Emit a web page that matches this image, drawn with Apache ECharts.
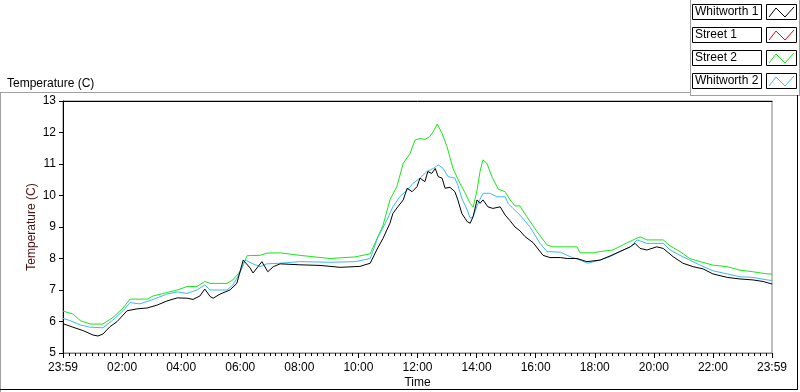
<!DOCTYPE html>
<html>
<head>
<meta charset="utf-8">
<title></title>
<style>
    * { margin: 0; padding: 0; }
    #main { width: 800px; height: 392px; background: #fff; }
</style>
</head>
<body>
<div id="main"></div>
<script src="https://cdn.jsdelivr.net/npm/echarts@6/dist/echarts.min.js"></script>
<script>
    // legend order, colours
    var seriesNames = ['Whitworth 1', 'Street 1', 'Street 2', 'Whitworth 2'];
    var seriesColors = ['#000000', '#ff0000', '#19e619', '#3fb8f0'];

    // x = minutes since 23:59 of the previous day
    var xTickLabels = ['23:59', '02:00', '04:00', '06:00', '08:00', '10:00', '12:00',
        '14:00', '16:00', '18:00', '20:00', '22:00', '23:59'];

    var w1Time = [0, 20, 41, 61, 71, 81, 95, 110, 130, 150, 171, 191, 211, 232, 252, 264, 278, 288, 299, 305,
        319, 339, 353, 366, 370, 380, 386, 396, 404, 416, 427, 441, 481, 522, 563, 603, 624, 638, 650, 664,
        670, 680, 691, 699, 709, 719, 725, 735, 741, 749, 756, 762, 770, 776, 786, 796, 802, 810, 821, 827,
        833, 841, 847, 853, 863, 873, 888, 898, 908, 918, 928, 938, 955, 975, 989, 1010, 1024, 1044, 1064, 1091,
        1111, 1131, 1152, 1162, 1172, 1186, 1206, 1219, 1239, 1259, 1280, 1300, 1320, 1349, 1375, 1401, 1422, 1440];
    var w1Temp = [5.93, 5.82, 5.71, 5.57, 5.54, 5.6, 5.83, 6.0, 6.34, 6.4, 6.43, 6.52, 6.65, 6.75, 6.74, 6.7, 6.81, 7.03, 6.79, 6.74,
        6.87, 7.0, 7.21, 7.95, 8.0, 7.7, 7.54, 7.74, 7.9, 7.58, 7.74, 7.83, 7.8, 7.78, 7.72, 7.75, 7.85, 8.3, 8.64, 9.12,
        9.43, 9.64, 9.86, 10.23, 10.12, 10.28, 10.55, 10.44, 10.76, 10.7, 10.86, 10.6, 10.55, 10.23, 10.26, 10.12, 9.86, 9.43, 9.17, 9.12,
        9.33, 9.86, 9.75, 9.86, 9.64, 9.59, 9.64, 9.38, 9.2, 9.0, 8.88, 8.7, 8.5, 8.1, 8.03, 8.03, 8.0, 8.0, 7.9, 7.95,
        8.08, 8.22, 8.37, 8.48, 8.32, 8.27, 8.37, 8.32, 8.06, 7.85, 7.74, 7.67, 7.51, 7.4, 7.35, 7.32, 7.27, 7.19];

    var s1Time = [];
    var s1Temp = [];

    var s2Time = [0, 20, 35, 55, 81, 100, 122, 136, 171, 183, 211, 232, 252, 272, 288, 299, 333, 345, 359, 374,
        400, 414, 441, 481, 542, 593, 624, 638, 650, 664, 678, 691, 705, 715, 725, 735, 745, 752, 760, 770,
        780, 792, 806, 817, 827, 833, 841, 847, 853, 861, 871, 884, 898, 908, 918, 928, 942, 963, 983, 995,
        1044, 1050, 1077, 1091, 1117, 1137, 1158, 1172, 1186, 1219, 1233, 1253, 1273, 1294, 1320, 1349, 1375, 1401, 1430, 1440];
    var s2Temp = [6.33, 6.24, 6.03, 5.92, 5.92, 6.11, 6.43, 6.71, 6.71, 6.81, 6.92, 7.0, 7.11, 7.11, 7.27, 7.21, 7.21, 7.32, 7.58, 8.09,
        8.1, 8.17, 8.18, 8.1, 8.0, 8.05, 8.15, 8.64, 9.05, 9.86, 10.28, 11.02, 11.34, 11.76, 11.81, 11.78, 11.87, 12.03, 12.27, 11.97,
        11.55, 10.86, 10.39, 10.07, 9.75, 9.63, 10.17, 10.76, 11.13, 11.02, 10.6, 10.2, 10.12, 9.86, 9.67, 9.67, 9.33, 8.85, 8.43, 8.37,
        8.37, 8.18, 8.18, 8.22, 8.27, 8.43, 8.59, 8.69, 8.59, 8.59, 8.4, 8.22, 8.0, 7.9, 7.79, 7.74, 7.63, 7.58, 7.51, 7.51];

    var w2Time = [0, 14, 35, 55, 81, 100, 122, 136, 156, 183, 211, 232, 252, 272, 288, 299, 333, 345, 359, 370,
        386, 400, 414, 441, 481, 542, 593, 624, 640, 658, 670, 684, 699, 711, 725, 739, 752, 762, 772, 782,
        796, 802, 810, 821, 827, 833, 843, 853, 867, 881, 898, 904, 914, 928, 948, 969, 983, 1010, 1030, 1050,
        1066, 1091, 1111, 1131, 1152, 1166, 1186, 1219, 1233, 1253, 1273, 1294, 1320, 1349, 1375, 1401, 1430, 1440];
    var w2Temp = [6.1, 6.03, 5.89, 5.82, 5.8, 6.03, 6.34, 6.6, 6.56, 6.7, 6.87, 6.94, 6.89, 7.0, 7.16, 7.0, 7.0, 7.16, 7.53, 7.95,
        7.83, 7.74, 7.83, 7.85, 7.9, 7.88, 7.9, 8.0, 8.69, 9.22, 9.64, 9.96, 10.17, 10.39, 10.55, 10.76, 10.86, 10.97, 10.86, 10.6,
        10.55, 10.33, 9.91, 9.54, 9.28, 9.33, 9.75, 10.07, 10.07, 9.96, 9.96, 9.75, 9.59, 9.38, 9.01, 8.48, 8.22, 8.2, 8.06, 7.95,
        7.85, 7.95, 8.06, 8.22, 8.37, 8.59, 8.48, 8.48, 8.27, 8.1, 7.95, 7.79, 7.61, 7.51, 7.42, 7.4, 7.32, 7.3];

    function pairs(t, v) {
        var out = [];
        for (var i = 0; i < t.length; i++) out.push([t[i], v[i]]);
        return out;
    }

    var font = 'Liberation Sans';
    var myChart = echarts.init(document.getElementById('main'));

    // frame lines around the chart and the legend
    var graphics = [
        { type: 'line', shape: { x1: 0, y1: 92.5, x2: 690, y2: 92.5 }, style: { stroke: '#a0a0a0', lineWidth: 1 } },
        { type: 'line', shape: { x1: 0.5, y1: 92, x2: 0.5, y2: 392 }, style: { stroke: '#a0a0a0', lineWidth: 1 } },
        { type: 'line', shape: { x1: 690.5, y1: 0, x2: 690.5, y2: 95 }, style: { stroke: '#a0a0a0', lineWidth: 1 } },
        { type: 'line', shape: { x1: 690, y1: 95.5, x2: 800, y2: 95.5 }, style: { stroke: '#a0a0a0', lineWidth: 1 } },
        { type: 'line', shape: { x1: 799.5, y1: 0, x2: 799.5, y2: 95 }, style: { stroke: '#a0a0a0', lineWidth: 1 } },
        { type: 'line', shape: { x1: 797.5, y1: 95, x2: 797.5, y2: 390 }, style: { stroke: '#000', lineWidth: 1 } },
        { type: 'line', shape: { x1: 0, y1: 389.5, x2: 798, y2: 389.5 }, style: { stroke: '#000', lineWidth: 1 } }
    ];

    // legend: label box + line icon box
    seriesNames.forEach(function (name, i) {
        var top = 4 + 23 * i;
        graphics.push({ type: 'rect', shape: { x: 692.5, y: top + 0.5, width: 69, height: 15 },
            style: { fill: '#fff', stroke: '#000', lineWidth: 1 } });
        graphics.push({ type: 'text', x: 695, y: top + 8, style: { text: name, font: '12px "' + font + '"',
            fill: '#000', textVerticalAlign: 'middle' } });
        graphics.push({ type: 'rect', shape: { x: 766.5, y: top + 0.5, width: 30, height: 15 },
            style: { fill: '#fff', stroke: '#000', lineWidth: 1 } });
        graphics.push({ type: 'polyline', shape: { points: [[769, top + 13], [776, top + 4], [785, top + 13], [794, top + 3]] },
            style: { stroke: seriesColors[i], lineWidth: 1, fill: null } });
    });

    var option = {
        animation: false,
        backgroundColor: '#fff',
        textStyle: { fontFamily: font },
        title: {
            text: 'Temperature (C)',
            left: 2, top: 73,
            textStyle: { fontSize: 12, fontWeight: 'normal', color: '#000', fontFamily: font }
        },
        grid: {
            left: 63, top: 101, width: 709, height: 252,
            outerBoundsMode: 'none',
            show: true, borderColor: '#808080', borderWidth: 1, backgroundColor: '#fff'
        },
        xAxis: [{
            type: 'value',
            min: 0, max: 1440, interval: 120,
            name: 'Time', nameLocation: 'middle', nameGap: 24, nameMoveOverlap: false,
            nameTextStyle: { fontSize: 12, color: '#000', fontFamily: font },
            axisLine: { lineStyle: { color: '#808080', width: 1 } },
            axisTick: { length: 5, lineStyle: { color: '#000' } },
            minorTick: { show: true, splitNumber: 10, length: 3, lineStyle: { color: '#000' } },
            splitLine: { show: false },
            axisLabel: {
                margin: 9, fontSize: 12, color: '#000', fontFamily: font,
                showMinLabel: true, showMaxLabel: true,
                formatter: function (v) { return xTickLabels[Math.round(v / 120)]; }
            }
        }, {
            type: 'value', position: 'top',
            min: 0, max: 1440,
            axisLine: { lineStyle: { color: '#000', width: 1 } },
            axisTick: { show: false }, axisLabel: { show: false }, splitLine: { show: false }
        }],
        yAxis: {
            type: 'value',
            min: 5, max: 13, interval: 1,
            name: 'Temperature (C)', nameLocation: 'middle', nameGap: 25, nameRotate: 90, nameMoveOverlap: false,
            nameTextStyle: { fontSize: 12, color: '#4a1010', fontFamily: font },
            axisLine: { show: true, lineStyle: { color: '#000', width: 1 } },
            axisTick: { show: true, length: 4, lineStyle: { color: '#000' } },
            splitLine: { show: false },
            axisLabel: { margin: 7, fontSize: 12, color: '#000', fontFamily: font }
        },
        graphic: graphics,
        series: [
            { name: seriesNames[2], type: 'line', showSymbol: false, data: pairs(s2Time, s2Temp),
                lineStyle: { color: seriesColors[2], width: 1 }, itemStyle: { color: seriesColors[2] } },
            { name: seriesNames[3], type: 'line', showSymbol: false, data: pairs(w2Time, w2Temp),
                lineStyle: { color: seriesColors[3], width: 1 }, itemStyle: { color: seriesColors[3] } },
            { name: seriesNames[1], type: 'line', showSymbol: false, data: pairs(s1Time, s1Temp),
                lineStyle: { color: seriesColors[1], width: 1 }, itemStyle: { color: seriesColors[1] } },
            { name: seriesNames[0], type: 'line', showSymbol: false, data: pairs(w1Time, w1Temp),
                lineStyle: { color: seriesColors[0], width: 1 }, itemStyle: { color: seriesColors[0] } }
        ]
    };
    myChart.setOption(option);
</script>
</body>
</html>
